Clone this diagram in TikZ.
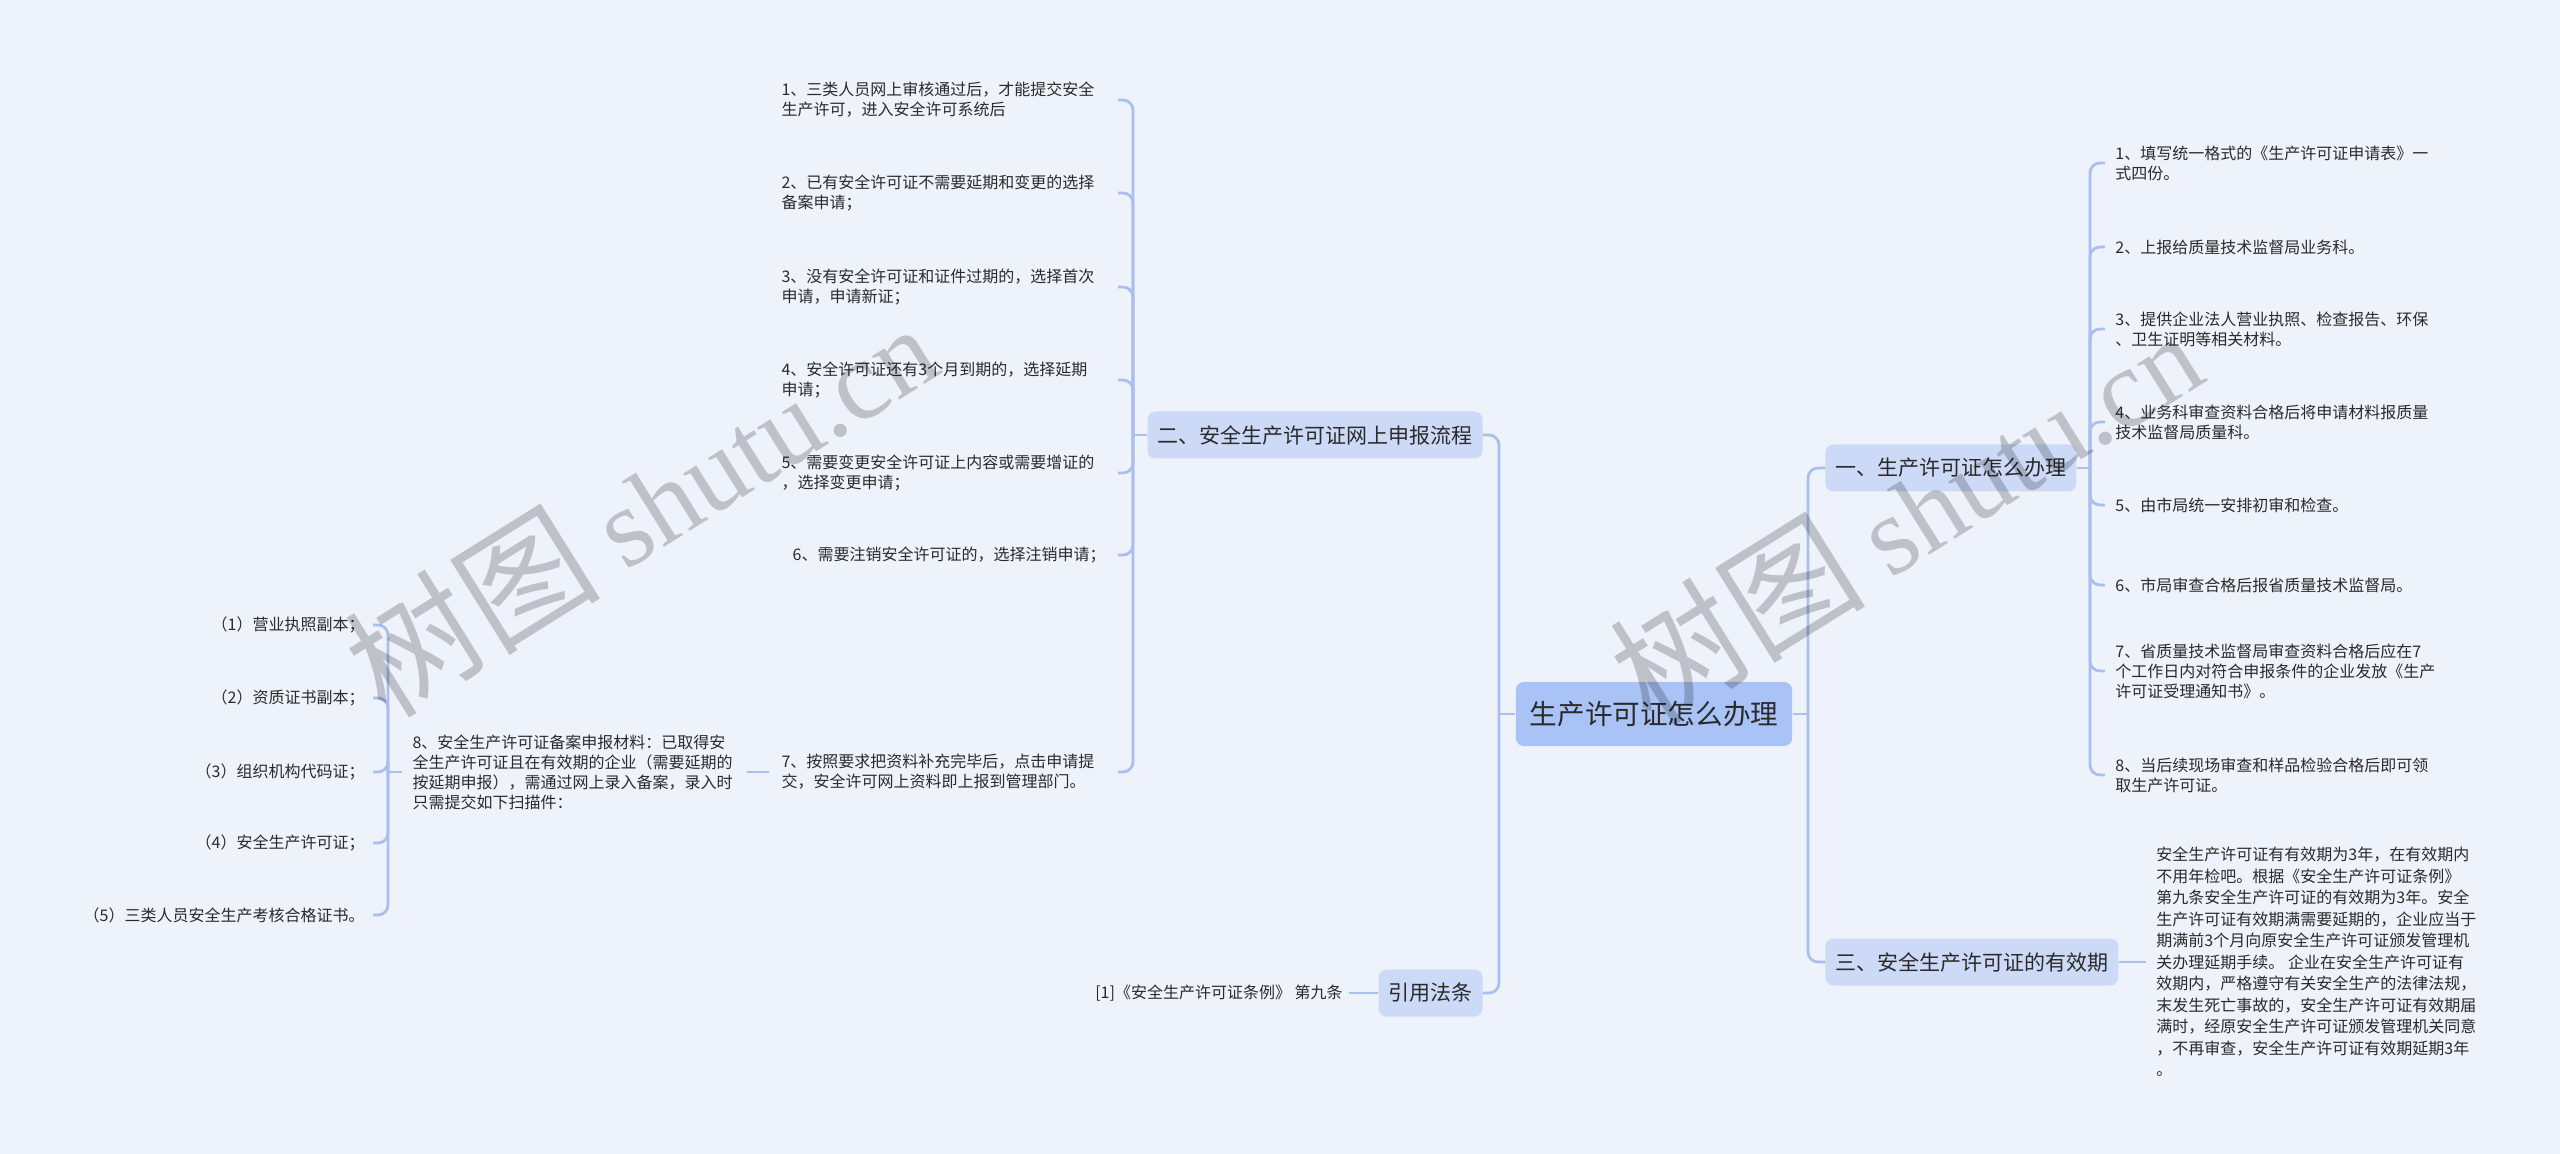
\documentclass[tikz,border=0pt]{standalone}
\usepackage{fontspec}
\setmainfont{Noto Sans CJK SC}
\newfontfamily\wmlatin{Liberation Serif}
\definecolor{bg}{HTML}{EEF2FB}
\definecolor{ln}{HTML}{A9C0EE}
\definecolor{lone}{HTML}{CCDAF8}
\definecolor{rootc}{HTML}{A9C3F6}
\definecolor{tx}{HTML}{2A2A2A}
\tikzset{
  conn/.style={draw=ln, line width=1.4pt, rounded corners=5pt},
  rootnode/.style={fill=rootc, rounded corners=4pt, text=tx, font=\fontsize{13.8}{16}\selectfont, inner xsep=7pt, inner ysep=0pt, minimum height=32pt},
  topic/.style={fill=lone, rounded corners=4pt, text=tx, font=\fontsize{10.5}{12}\selectfont, inner xsep=5pt, inner ysep=0pt, minimum height=23.5pt},
  leaf/.style={text=tx, font=\fontsize{8}{10}\selectfont, inner ysep=1pt, align=left},
  leafw/.style={leaf, text width=162pt},
  wm/.style={text=black, opacity=0.2, rotate=32, font=\fontsize{56}{60}\selectfont, inner sep=0pt}
}
\begin{document}
\begin{tikzpicture}[x=0.5pt,y=-0.5pt]
\fill[bg] (0,0) rectangle (2560,1154);
\useasboundingbox (0,0) rectangle (2560,1154);

% root and main topics
\node[rootnode] (root) at (1654,714) {生产许可证怎么办理};
\node[topic, anchor=west] (t1) at (1825,468) {一、生产许可证怎么办理};
\node[topic, anchor=east] (t2) at (1483,435) {二、安全生产许可证网上申报流程};
\node[topic, anchor=west] (t3) at (1825,962) {三、安全生产许可证的有效期};
\node[topic, anchor=east] (t4) at (1483,993) {引用法条};

% root connectors
\coordinate (jl) at (1499,714);
\coordinate (jr) at (1808,714);
\draw[conn] (root.west) -- (jl);
\draw[conn] (jl) |- (t2.east);
\draw[conn] (jl) |- (t4.east);
\draw[conn] (root.east) -- (jr);
\draw[conn] (jr) |- (t1.west);
\draw[conn] (jr) |- (t3.west);

% topic 1 children
\tikzset{rleaf/.style={leaf, anchor=west, inner xsep=5pt}, rleafw/.style={leafw, anchor=west, inner xsep=5pt}}
\node[rleafw] (a1) at (2105,163) {1、填写统一格式的《生产许可证申请表》一\\式四份。};
\node[rleaf] (a2) at (2105,247) {2、上报给质量技术监督局业务科。};
\node[rleafw] (a3) at (2105,329) {3、提供企业法人营业执照、检查报告、环保\\、卫生证明等相关材料。};
\node[rleafw] (a4) at (2105,422) {4、业务科审查资料合格后将申请材料报质量\\技术监督局质量科。};
\node[rleaf] (a5) at (2105,505) {5、由市局统一安排初审和检查。};
\node[rleaf] (a6) at (2105,585) {6、市局审查合格后报省质量技术监督局。};
\node[rleafw] (a7) at (2105,671) {7、省质量技术监督局审查资料合格后应在7\\个工作日内对符合申报条件的企业发放《生产\\许可证受理通知书》。};
\node[rleafw] (a8) at (2105,775) {8、当后续现场审查和样品检验合格后即可领\\取生产许可证。};
\coordinate (j1) at (2090,468);
\draw[conn] (t1.east) -- (j1);
\foreach \n in {a1,a2,a3,a4,a5,a6,a7,a8} {\draw[conn] (j1) |- (\n.west);}

% topic 2 children
\tikzset{lleaf/.style={leaf, anchor=east, inner xsep=6pt}, lleafw/.style={leafw, anchor=east, inner xsep=6pt}}
\node[lleafw] (b1) at (1118,100) {1、三类人员网上审核通过后，才能提交安全\\生产许可，进入安全许可系统后};
\node[lleafw] (b2) at (1118,193) {2、已有安全许可证不需要延期和变更的选择\\备案申请；};
\node[lleafw] (b3) at (1118,287) {3、没有安全许可证和证件过期的，选择首次\\申请，申请新证；};
\node[lleafw] (b4) at (1118,380) {4、安全许可证还有3个月到期的，选择延期\\申请；};
\node[lleafw] (b5) at (1118,473) {5、需要变更安全许可证上内容或需要增证的\\，选择变更申请；};
\node[lleaf] (b6) at (1118,555) {6、需要注销安全许可证的，选择注销申请；};
\node[lleafw] (b7) at (1118,772) {7、按照要求把资料补充完毕后，点击申请提\\交，安全许可网上资料即上报到管理部门。};
\coordinate (j2) at (1133,435);
\draw[conn] (t2.west) -- (j2);
\foreach \n in {b1,b2,b3,b4,b5,b6,b7} {\draw[conn] (j2) |- (\n.east);}

% item 8 under item 7
\node[leafw, anchor=east, inner xsep=5pt] (c8) at (747,772) {8、安全生产许可证备案申报材料：已取得安\\全生产许可证且在有效期的企业（需要延期的\\按延期申报），需通过网上录入备案，录入时\\只需提交如下扫描件：};
\draw[conn] (c8.east) -- (b7.west);

\node[leaf, anchor=east, inner xsep=4pt] (d1) at (373,625) {（1）营业执照副本；};
\node[leaf, anchor=east, inner xsep=4pt] (d2) at (373,698) {（2）资质证书副本；};
\node[leaf, anchor=east, inner xsep=4pt] (d3) at (373,772) {（3）组织机构代码证；};
\node[leaf, anchor=east, inner xsep=4pt] (d4) at (373,843) {（4）安全生产许可证；};
\node[leaf, anchor=east, inner xsep=4pt] (d5) at (373,915) {（5）三类人员安全生产考核合格证书。};
\coordinate (j3) at (388,772);
\draw[conn] (c8.west) -- (j3);
\foreach \n in {d1,d2,d3,d4,d5} {\draw[conn] (j3) |- (\n.east);}

% topic 3 child
\node[leaf, anchor=west, inner xsep=5pt, font=\fontsize{8}{10.75}\selectfont] (e1) at (2146,962) {安全生产许可证有有效期为3年，在有效期内\\不用年检吧。根据《安全生产许可证条例》\\第九条安全生产许可证的有效期为3年。安全\\生产许可证有效期满需要延期的，企业应当于\\期满前3个月向原安全生产许可证颁发管理机\\关办理延期手续。 企业在安全生产许可证有\\效期内，严格遵守有关安全生产的法律法规，\\末发生死亡事故的，安全生产许可证有效期届\\满时，经原安全生产许可证颁发管理机关同意\\，不再审查，安全生产许可证有效期延期3年\\。};
\draw[conn] (t3.east) -- (e1.west);

% topic 4 child
\node[leaf, anchor=east, inner xsep=3pt] (f1) at (1349,993) {[1]《安全生产许可证条例》 第九条};
\draw[conn] (t4.west) -- (f1.east);

% watermarks
\node[wm] (wm1) at (640,505) {{\fontsize{64}{68}\selectfont 树图} {\wmlatin shutu.cn}};
\node[wm] (wm2) at (1905,513) {{\fontsize{64}{68}\selectfont 树图} {\wmlatin shutu.cn}};
\end{tikzpicture}
\end{document}
